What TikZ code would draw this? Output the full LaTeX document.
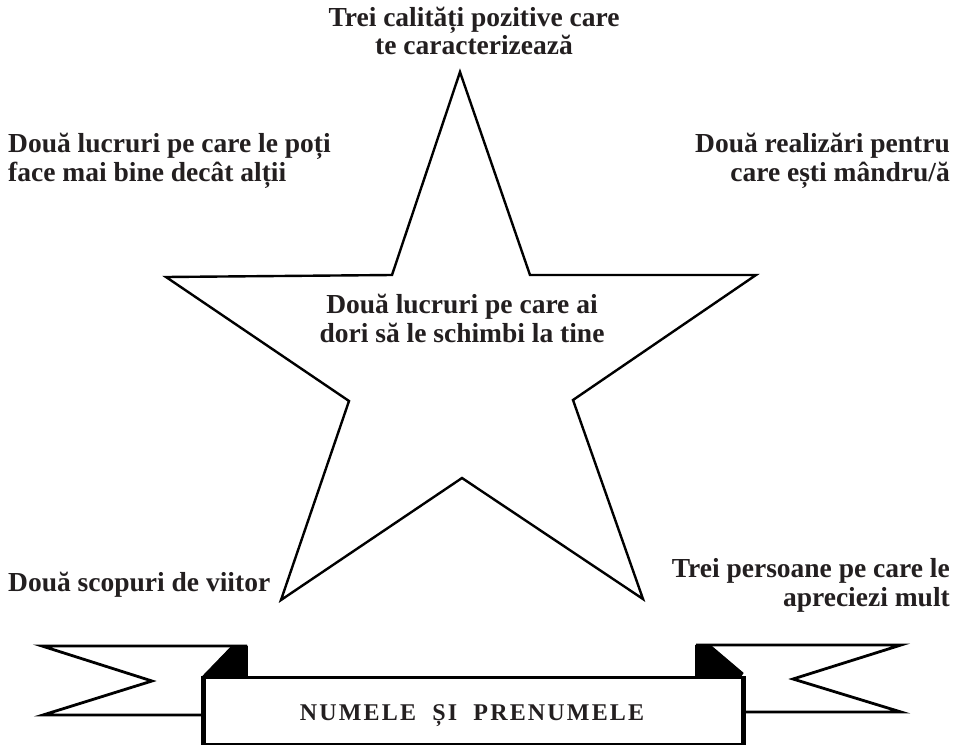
\documentclass[tikz,border=0pt]{standalone}
\usepackage{fontspec}
\setmainfont{Liberation Serif}
\newfontfamily\bannerfont[LetterSpace=9]{Liberation Serif}
\definecolor{ink}{HTML}{231F20}
\begin{document}
\begin{tikzpicture}[x=1bp,y=-1bp,
  lbl/.style={font=\fontsize{27.5bp}{28.5bp}\selectfont\bfseries, text=ink, inner sep=0pt},
  outline/.style={draw=black, line width=2.4bp, line join=miter},
  ribbon/.style={draw=black, line width=2.8bp, line join=miter},
  fold/.style={fill=black, draw=black, line width=1bp}]
\useasboundingbox (0,0) rectangle (958,745);
\fill[white] (0,0) rectangle (958,745);
% star
\coordinate (t)  at (460,72);
\coordinate (ir) at (530,275);
\coordinate (r)  at (756,275);
\coordinate (lr) at (573,400);
\coordinate (br) at (643,599);
\coordinate (b)  at (462,478);
\coordinate (bl) at (281,600);
\coordinate (ll) at (349,401);
\coordinate (l)  at (166,277);
\coordinate (il) at (392,275);
\draw[outline] (t) -- (ir) -- (r) -- (lr) -- (br) -- (b) -- (bl) -- (ll) -- (l) -- (il) -- cycle;
% labels (anchor base = baseline of the last line)
\node[lbl, anchor=base, align=center] (top) at (474,55) {Trei calități pozitive care\\te caracterizează};
\node[lbl, anchor=base west, align=left] (ul) at (8,181) {Două lucruri pe care le poți\\face mai bine decât alții};
\node[lbl, anchor=base east, align=right] (ur) at (950,181) {Două realizări pentru\\care ești mândru/ă};
\node[lbl, anchor=base, align=center] (mid) at (462,342) {Două lucruri pe care ai\\dori să le schimbi la tine};
\node[lbl, anchor=base west, align=left] (bll) at (8,591) {Două scopuri de viitor};
\node[lbl, anchor=base east, align=right] (brl) at (950,606) {Trei persoane pe care le\\apreciezi mult};
% banner: left tail
\coordinate (lt1) at (42,646);
\coordinate (lt2) at (247,646);
\coordinate (ln)  at (152,681);
\coordinate (lb1) at (43,715);
\coordinate (lb2) at (203,715);
\fill[fold] (232,646) -- (247,646) -- (247,676) -- (203,676) -- cycle;
\draw[ribbon] (lt2) -- (lt1) -- (ln) -- (lb1) -- (lb2);
\draw[ribbon] (lt2) -- (247,676);
% right tail
\coordinate (rt1) at (696,645);
\coordinate (rt2) at (901,645);
\coordinate (rn)  at (793,679);
\coordinate (rb1) at (901,712);
\coordinate (rb2) at (741,712);
\fill[fold] (696,645) -- (710,645) -- (743,673) -- (741,676) -- (696,676) -- cycle;
\draw[ribbon] (rt1) -- (rt2) -- (rn) -- (rb1) -- (rb2);
\draw[ribbon] (rt1) -- (696,676);
% main box
\node[draw=black, line width=2.8bp, fill=white, minimum width=538bp, minimum height=67bp, inner sep=0pt, anchor=north west] (box) at (203,676) {};
\draw[line width=4bp] (box.north west) -- (box.south west);
\draw[line width=4bp] (box.north east) -- (box.south east);
\node[anchor=base, text=ink, inner sep=0pt, font=\bannerfont\fontsize{24bp}{26bp}\selectfont\bfseries] (name) at (472,720) {NUMELE\ \ ȘI\ \ PRENUMELE};
\end{tikzpicture}
\end{document}
